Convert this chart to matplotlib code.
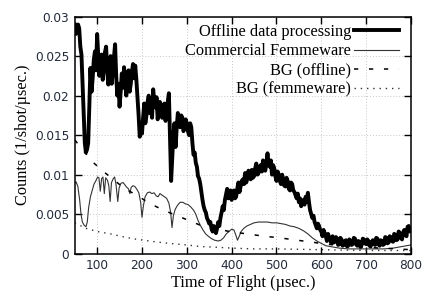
#!/usr/bin/env python3
"""
Time-of-flight spectrum: offline processing vs commercial Femmeware, with backgrounds.
"""
import matplotlib
matplotlib.use("Agg")
import matplotlib.pyplot as plt
import numpy as np

# offline data processing, one value every 2.5 usec from 50 to 800
tof_offline = np.linspace(50, 800, 301)
cnt_offline = [
    0.0290, 0.0278, 0.0283, 0.0290, 0.0285, 0.0262, 0.0252, 0.0215, 0.0175, 0.0140,
    0.0128, 0.0132, 0.0140, 0.0185, 0.0235, 0.0205, 0.0222, 0.0245, 0.0256, 0.0232,
    0.0278, 0.0250, 0.0225, 0.0240, 0.0252, 0.0220, 0.0238, 0.0255, 0.0262, 0.0230,
    0.0214, 0.0240, 0.0250, 0.0215, 0.0232, 0.0250, 0.0265, 0.0225, 0.0200, 0.0215,
    0.0186, 0.0205, 0.0228, 0.0210, 0.0236, 0.0218, 0.0200, 0.0222, 0.0232, 0.0205,
    0.0215, 0.0230, 0.0240, 0.0222, 0.0238, 0.0220, 0.0198, 0.0175, 0.0148, 0.0160,
    0.0152, 0.0172, 0.0190, 0.0165, 0.0175, 0.0192, 0.0200, 0.0178, 0.0188, 0.0172,
    0.0208, 0.0192, 0.0185, 0.0198, 0.0170, 0.0182, 0.0192, 0.0178, 0.0172, 0.0188,
    0.0190, 0.0168, 0.0178, 0.0192, 0.0203, 0.0150, 0.0092, 0.0120, 0.0150, 0.0165,
    0.0135, 0.0160, 0.0178, 0.0165, 0.0160, 0.0175, 0.0172, 0.0155, 0.0158, 0.0170,
    0.0165, 0.0155, 0.0150, 0.0165, 0.0160, 0.0140, 0.0125, 0.0128, 0.0115, 0.0110,
    0.0098, 0.0095, 0.0088, 0.0078, 0.0068, 0.0060, 0.0055, 0.0052, 0.0045, 0.0042,
    0.0038, 0.0040, 0.0032, 0.0028, 0.0035, 0.0030, 0.0026, 0.0032, 0.0040, 0.0035,
    0.0045, 0.0052, 0.0060, 0.0055, 0.0068, 0.0075, 0.0082, 0.0070, 0.0075, 0.0080,
    0.0068, 0.0074, 0.0080, 0.0070, 0.0072, 0.0082, 0.0090, 0.0078, 0.0085, 0.0092,
    0.0094, 0.0088, 0.0102, 0.0090, 0.0095, 0.0105, 0.0100, 0.0094, 0.0106, 0.0096,
    0.0098, 0.0108, 0.0114, 0.0100, 0.0102, 0.0110, 0.0112, 0.0104, 0.0118, 0.0106,
    0.0105, 0.0115, 0.0127, 0.0112, 0.0110, 0.0118, 0.0100, 0.0112, 0.0108, 0.0098,
    0.0092, 0.0104, 0.0100, 0.0092, 0.0088, 0.0100, 0.0095, 0.0086, 0.0085, 0.0096,
    0.0092, 0.0082, 0.0080, 0.0090, 0.0088, 0.0080, 0.0078, 0.0074, 0.0070, 0.0076,
    0.0065, 0.0070, 0.0060, 0.0064, 0.0068, 0.0062, 0.0072, 0.0066, 0.0077, 0.0065,
    0.0055, 0.0050, 0.0045, 0.0048, 0.0040, 0.0036, 0.0032, 0.0038, 0.0035, 0.0030,
    0.0028, 0.0022, 0.0030, 0.0026, 0.0022, 0.0016, 0.0025, 0.0020, 0.0018, 0.0013,
    0.0022, 0.0014, 0.0015, 0.0021, 0.0019, 0.0011, 0.0012, 0.0020, 0.0018, 0.0010,
    0.0011, 0.0016, 0.0017, 0.0009, 0.0010, 0.0018, 0.0016, 0.0011, 0.0012, 0.0020,
    0.0019, 0.0012, 0.0010, 0.0016, 0.0015, 0.0008, 0.0011, 0.0019, 0.0018, 0.0013,
    0.0012, 0.0018, 0.0016, 0.0010, 0.0009, 0.0015, 0.0017, 0.0012, 0.0011, 0.0020,
    0.0019, 0.0012, 0.0010, 0.0017, 0.0016, 0.0011, 0.0012, 0.0021, 0.0020, 0.0013,
    0.0014, 0.0022, 0.0021, 0.0016, 0.0015, 0.0025, 0.0024, 0.0017, 0.0018, 0.0028,
    0.0026, 0.0020, 0.0018, 0.0027, 0.0030, 0.0024, 0.0022, 0.0034, 0.0035, 0.0028,
    0.0030,
]

# commercial Femmeware
tof_femme = [
    50, 53, 57, 61, 64, 67, 71, 75, 78, 81, 85, 89, 93, 97, 101, 104, 107, 110,
    113, 116, 119, 123, 126, 129, 132, 136, 139, 142, 146, 149, 153, 158, 162,
    166, 170, 173, 176, 180, 184, 188, 193, 197, 200, 203, 207, 212, 217, 222,
    227, 232, 236, 240, 245, 250, 255, 260, 264, 267, 270, 274, 279, 285, 291,
    297, 303, 309, 315, 320, 325, 330, 336, 342, 348, 355, 362, 370, 376, 382,
    388, 394, 400, 405, 409, 413, 417, 421, 427, 434, 442, 450, 460, 470, 480,
    490, 500, 510, 520, 530, 540, 550, 560, 570, 580, 590, 600, 610, 620, 640,
    660, 700, 740, 760, 780, 800,
]
cnt_femme = [
    0.0089, 0.0091, 0.0085, 0.0068, 0.0050, 0.0040, 0.0036, 0.0034, 0.0040, 0.0058,
    0.0072, 0.0080, 0.0088, 0.0092, 0.0097, 0.0096, 0.0079, 0.0095, 0.0097, 0.0076,
    0.0096, 0.0093, 0.0086, 0.0066, 0.0090, 0.0095, 0.0097, 0.0088, 0.0066, 0.0083,
    0.0089, 0.0090, 0.0087, 0.0084, 0.0082, 0.0076, 0.0084, 0.0086, 0.0085, 0.0082,
    0.0077, 0.0065, 0.0046, 0.0060, 0.0072, 0.0077, 0.0078, 0.0076, 0.0077, 0.0073,
    0.0072, 0.0076, 0.0074, 0.0072, 0.0070, 0.0064, 0.0052, 0.0033, 0.0048, 0.0056,
    0.0061, 0.0065, 0.0065, 0.0063, 0.0062, 0.0059, 0.0055, 0.0050, 0.0042, 0.0036,
    0.0030, 0.0025, 0.0022, 0.0019, 0.0017, 0.0016, 0.0017, 0.0020, 0.0025, 0.0028,
    0.0031, 0.0030, 0.0024, 0.0017, 0.0022, 0.0028, 0.0032, 0.0035, 0.0037, 0.0039,
    0.0040, 0.0040, 0.0040, 0.0039, 0.0039, 0.0038, 0.0037, 0.0035, 0.0034, 0.0032,
    0.0029, 0.0025, 0.0020, 0.0016, 0.0013, 0.0010, 0.0009, 0.0007, 0.0006, 0.0006,
    0.0006, 0.0007, 0.0009, 0.0011,
]

# backgrounds
tof_bg_off = [50, 90, 114, 162, 192, 212, 248, 300, 330, 395, 460, 520, 586, 610, 700, 800]
cnt_bg_off = [0.0144, 0.0116, 0.0104, 0.0082, 0.0073, 0.0065, 0.0055, 0.0043, 0.0036,
              0.0028, 0.0023, 0.0019, 0.0014, 0.0012, 0.0008, 0.0005]

tof_bg_femme = [50, 75, 100, 130, 160, 190, 230, 260, 300, 330, 370, 400, 450, 500, 600, 700, 800]
cnt_bg_femme = [0.0039, 0.0032, 0.0028, 0.0025, 0.0021, 0.0018, 0.0015, 0.0013, 0.0011,
                0.0009, 0.0008, 0.0007, 0.0006, 0.0006, 0.0005, 0.0004, 0.0004]

serif = ["Liberation Serif", "DejaVu Serif"]
tick_col = "#222a3a"

fig = plt.figure(figsize=(4.27, 2.97), dpi=100)
ax = fig.add_axes([0.175, 0.146, 0.7875, 0.798])

ax.plot(tof_offline, cnt_offline, color="black", lw=2.8, label="Offline data processing")
ax.plot(tof_femme, cnt_femme, color="#333333", lw=0.8, label="Commercial Femmeware")
ax.plot(tof_bg_off, cnt_bg_off, color="black", lw=1.1, dashes=(2.8, 7),
        label="BG (offline)")
ax.plot(tof_bg_femme, cnt_bg_femme, color="#333333", lw=1.0, dashes=(1, 3.5),
        label="BG (femmeware)")

ax.set_xlim(50, 800)
ax.set_ylim(0, 0.03)
ax.set_xticks(range(100, 801, 100))
ax.set_yticks([0, 0.005, 0.01, 0.015, 0.02, 0.025, 0.03])
ax.set_yticklabels(["0", "0.005", "0.01", "0.015", "0.02", "0.025", "0.03"])
ax.tick_params(direction="in", top=True, right=True, length=5, width=1,
               labelsize=8.7, labelcolor=tick_col, pad=4)
ax.grid(True, color="#c8c8c8", linestyle=(0, (1, 2)), lw=0.7)
for sp in ax.spines.values():
    sp.set_linewidth(1.1)

ax.set_xlabel("Time of Flight (µsec.)", family=serif, fontsize=11.8, labelpad=2)
ax.set_ylabel("Counts (1/shot/µsec.)", family=serif, fontsize=11.8, labelpad=3)

ax.legend(loc="upper right", bbox_to_anchor=(0.985, 1.0), frameon=False,
          markerfirst=False, prop={"family": serif, "size": 11.8},
          handlelength=2.7, handletextpad=0.2, labelspacing=0.2,
          borderaxespad=0.25, borderpad=0.2)

fig.savefig("out.png", dpi=100)
